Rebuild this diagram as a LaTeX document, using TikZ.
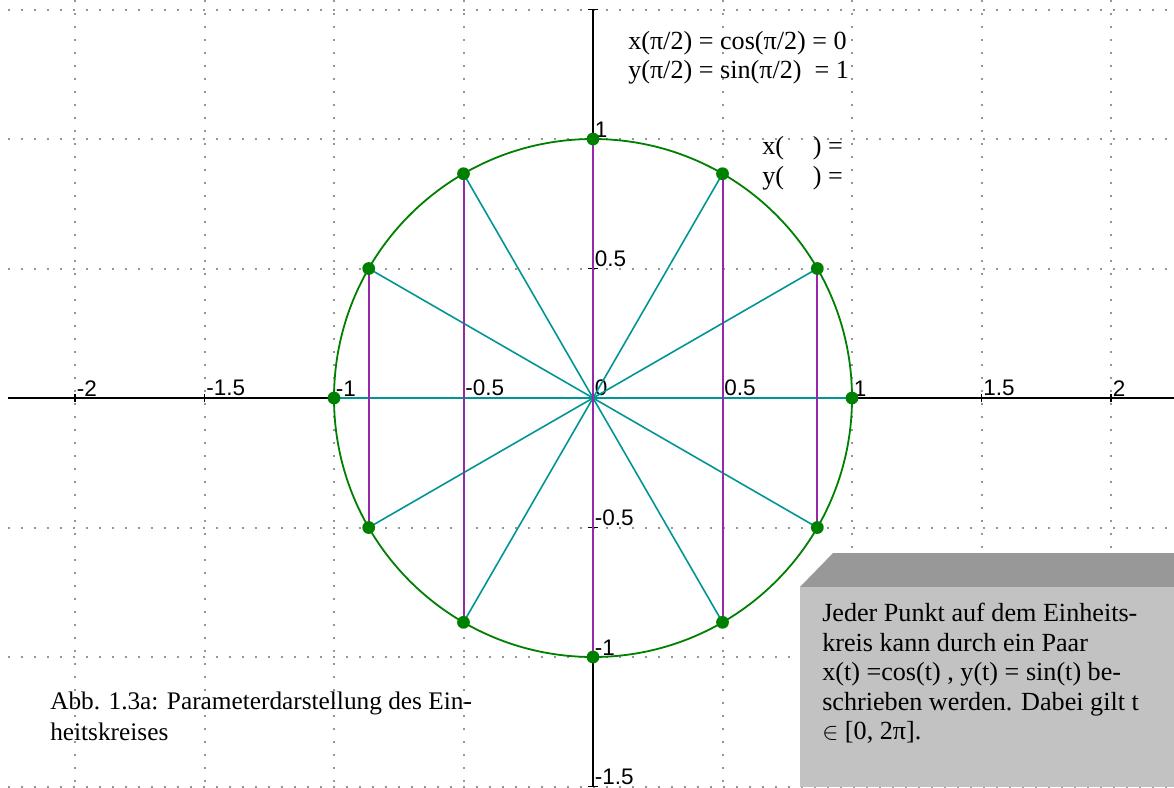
\documentclass[tikz,border=0pt]{standalone}
\usepackage{fontspec}
\setmainfont{Liberation Serif}
\setsansfont{Liberation Sans}
\usetikzlibrary{positioning}
\definecolor{circgreen}{RGB}{0,128,0}
\definecolor{spoke}{RGB}{0,150,150}
\definecolor{chord}{RGB}{150,40,170}
\definecolor{gridgray}{RGB}{150,150,150}
\definecolor{boxgray}{RGB}{194,194,194}
\definecolor{bevel}{RGB}{152,152,152}

\begin{document}
\begin{tikzpicture}[x=6.475cm, y=6.475cm,
    gridline/.style={gridgray, line width=0.05cm, dash pattern=on 0.05cm off 0.275cm},
    axis/.style={black, line width=0.05cm},
    ticklbl/.style={font=\sffamily\fontsize{16}{16}\selectfont, anchor=south west, inner sep=0.04cm},
    txt/.style={font=\fontsize{18.6}{21}\selectfont, align=left, anchor=north west, inner sep=0pt}]
  \fill[white] (-2.2896,-1.5019) rectangle (2.2432,1.5367);
  \useasboundingbox (-2.2896,-1.5019) rectangle (2.2432,1.5367);

  % dotted grid
  \foreach \v in {-2,-1.5,-1,-0.5,0.5,1,1.5,2}
    \draw[gridline] (\v,1.5367) -- (\v,-1.5019);
  \foreach \v in {1.5,1,0.5,-0.5,-1,-1.5}
    \draw[gridline] (-2.26,\v) -- (2.2432,\v);

  % axes with ticks
  \coordinate (O) at (0,0);
  \draw[axis] (-2.259,0) -- (2.2432,0);
  \draw[axis] (0,1.5) -- (0,-1.5019);
  \foreach \v [count=\i] in {-2,-1.5,-1,-0.5,0,0.5,1,1.5,2}{
    \draw[axis, line width=0.035cm] (\v,-0.016) -- (\v,0.016);
    \node[ticklbl] (xl\i) at (\v,0) {\v};
  }
  \foreach \v [count=\i] in {1.5,1,0.5,-0.5,-1,-1.5}
    \draw[axis, line width=0.035cm] (-0.02,\v) -- (0.02,\v);
  \foreach \v [count=\i] in {1,0.5,-0.5,-1,-1.5}
    \node[ticklbl] (yl\i) at (0,\v) {\v};

  % unit circle, spokes and chords
  \draw[circgreen, line width=0.045cm] (O) circle (1);
  \foreach \a in {0,...,11}
    \coordinate (P\a) at (\a*30:1);
  \foreach \a in {0,...,11}
    \draw[spoke, line width=0.04cm] (O) -- (P\a);
  \foreach \a/\b in {1/11,2/10,3/9,4/8,5/7}
    \draw[chord, line width=0.05cm] (P\a) -- (P\b);
  \foreach \a in {0,...,11}
    \fill[circgreen] (P\a) circle (0.16cm);

  % texts
  \node[txt] (top) at (0.135,1.418) {x(π/2) = cos(π/2) = 0\\y(π/2) = sin(π/2) \ = 1};
  \node[txt] (xy) at (0.6525,1.01) {x(\hspace{1.1em}) =\\y(\hspace{1.1em}) =};
  \node[txt, font=\fontsize{18}{21.5}\selectfont] (cap) at (-2.0965,-1.135) {Abb. 1.3a: Parameterdarstellung des Ein-\\heitskreises};

  % info box
  \fill[bevel] (0.799,-0.7297) -- (0.9266,-0.5985) -- (2.2432,-0.5985) -- (2.2432,-0.7297) -- cycle;
  \fill[boxgray] (0.799,-0.7297) rectangle (2.2432,-1.5019);
  \node[txt] (info) at (0.884,-0.792) {Jeder Punkt auf dem Einheits-\\kreis kann durch ein Paar\\x(t) =cos(t) , y(t) = sin(t) be-\\schrieben werden. Dabei gilt t\\$\in$ [0, 2π].};
\end{tikzpicture}
\end{document}
